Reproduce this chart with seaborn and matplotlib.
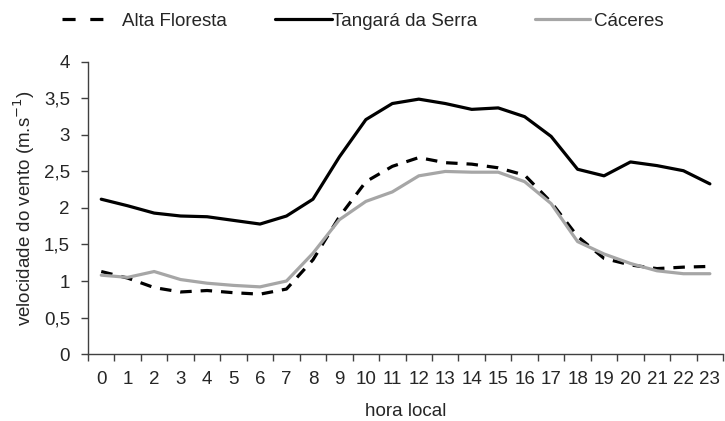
import matplotlib
matplotlib.use('Agg')
import matplotlib.pyplot as plt
import matplotlib.ticker as mticker
from matplotlib.lines import Line2D
import numpy as np
import seaborn as sns

# dados: velocidade média do vento por hora local
horas = list(range(24))
alta_floresta = [1.13, 1.04, 0.91, 0.85, 0.87, 0.84, 0.82, 0.89, 1.29, 1.88, 2.36, 2.57,
                 2.69, 2.62, 2.60, 2.55, 2.45, 2.08, 1.61, 1.31, 1.22, 1.17, 1.19, 1.20]
tangara = [2.12, 2.03, 1.93, 1.89, 1.88, 1.83, 1.78, 1.89, 2.12, 2.70, 3.21, 3.43,
           3.49, 3.43, 3.35, 3.37, 3.25, 2.98, 2.53, 2.44, 2.63, 2.58, 2.51, 2.33]
caceres = [1.08, 1.05, 1.13, 1.02, 0.97, 0.94, 0.92, 1.00, 1.38, 1.84, 2.09, 2.22,
           2.44, 2.50, 2.49, 2.49, 2.36, 2.06, 1.54, 1.37, 1.24, 1.14, 1.10, 1.10]
nomes = ['Alta Floresta', 'Tangará da Serra', 'Cáceres']

sns.set_style('white')
plt.rcParams['font.family'] = ['Liberation Sans', 'DejaVu Sans']
fs = 13.5
cinza = '#a6a6a6'

fig = plt.figure(figsize=(7.25, 4.21), dpi=100)
ax = fig.add_axes([0.1214, 0.159, 0.876, 0.694])

lw = 2.3
sns.lineplot(x=horas, y=alta_floresta, ax=ax, color='black', lw=lw)
ax.lines[-1].set_dashes((3.6, 2.8))
sns.lineplot(x=horas, y=tangara, ax=ax, color='black', lw=lw)
sns.lineplot(x=horas, y=caceres, ax=ax, color=cinza, lw=lw)

ax.set_xlim(-0.5, 23.5)
ax.set_ylim(0, 4)
ax.set_xticks(horas)
ax.set_xticks(np.arange(-0.5, 24, 1), minor=True)
ax.tick_params(axis='x', which='major', length=0, labelsize=fs, pad=12)
ax.tick_params(axis='x', which='minor', length=5, width=1, color='#404040', direction='out', bottom=True)
ax.yaxis.set_major_locator(mticker.MultipleLocator(0.5))
ax.yaxis.set_major_formatter(mticker.FuncFormatter(lambda v, p: f'{v:g}'.replace('.', ',')))
ax.tick_params(axis='y', length=5, width=1, color='#404040', direction='out', left=True, labelsize=fs, pad=8)

for s in ['top', 'right']:
    ax.spines[s].set_visible(False)
for s in ['left', 'bottom']:
    ax.spines[s].set_color('#404040')
    ax.spines[s].set_linewidth(1)

ax.set_xlabel('hora local', fontsize=fs, labelpad=11)
ax.set_ylabel('velocidade do vento (m.s$^{-1}$)', fontsize=fs, labelpad=5)

# legenda no topo, uma entrada de cada vez
h1 = Line2D([], [], color='black', lw=lw, dashes=(4.1, 4.6))
h2 = Line2D([], [], color='black', lw=lw)
h3 = Line2D([], [], color=cinza, lw=lw)
entradas = [(h1, nomes[0], 62, 43, 17), (h2, nomes[1], 275, 57, 0), (h3, nomes[2], 535, 55, 4)]
em = fs * 100 / 72
for h, nome, x0, comp, gap in entradas:
    fig.legend([h], [nome], loc='center left', bbox_to_anchor=(x0 / 725, 1 - 21 / 421),
               frameon=False, fontsize=fs, handlelength=comp / em, handletextpad=gap / em,
               borderpad=0, borderaxespad=0)

plt.savefig('out.png', dpi=100)
